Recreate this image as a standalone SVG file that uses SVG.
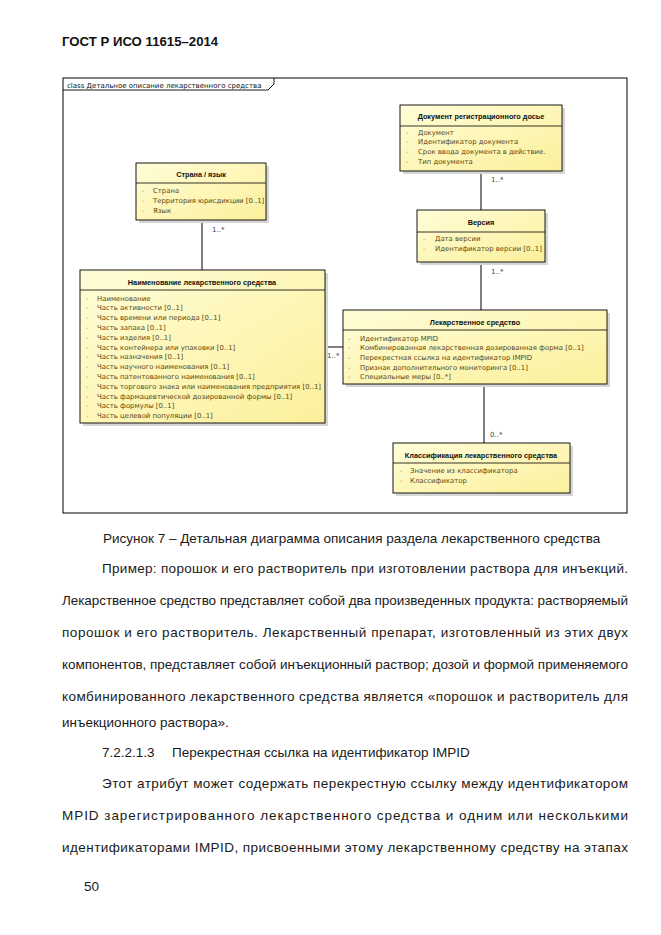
<svg xmlns="http://www.w3.org/2000/svg" width="661" height="935" viewBox="0 0 661 935">
<defs>
<linearGradient id="yel" x1="0" y1="0" x2="1" y2="1">
<stop offset="0" stop-color="#FFFDD8"/>
<stop offset="1" stop-color="#FBF09A"/>
</linearGradient>
<style>
.pg{font-family:"Liberation Sans",Arial,sans-serif;font-size:13.5px;fill:#1a1a1a}
.hd{font-family:"Liberation Sans",Arial,sans-serif;font-size:13.2px;font-weight:bold;fill:#111}
.box{fill:url(#yel);stroke:#000;stroke-width:0.9}
.sh{fill:#d6d6d6}
.sep{stroke:#000;stroke-width:0.8}
.tt{font-family:"Liberation Sans",Arial,sans-serif;font-size:7.3px;font-weight:bold;fill:#111;text-anchor:middle}
.at{font-family:"DejaVu Sans",Verdana,sans-serif;font-size:6.9px;fill:#5a4610}
.ds{font-family:"DejaVu Sans",Verdana,sans-serif;font-size:6.9px;fill:#c8892a}
.lb{font-family:"DejaVu Sans",Verdana,sans-serif;font-size:7px;fill:#444}
.cn{stroke:#000;stroke-width:1;fill:none}
.fr{font-family:"DejaVu Sans",Verdana,sans-serif;font-size:7px;fill:#111}
</style>
</defs>
<rect width="661" height="935" fill="#fff"/>
<text class="hd" x="62" y="45.5">ГОСТ Р ИСО 11615–2014</text>

<g id="frame">
<rect x="63" y="78" width="564" height="435" fill="none" stroke="#000" stroke-width="1"/>
<path d="M63,90 H268 L274,84 V78" fill="none" stroke="#000" stroke-width="0.9"/>
<text class="fr" x="67" y="87.5">class Детальное описание лекарственного средства</text>
</g>

<g id="connectors">
<line class="cn" x1="481" y1="171" x2="481" y2="210"/>
<line class="cn" x1="481" y1="262" x2="481" y2="310"/>
<line class="cn" x1="202" y1="220" x2="202" y2="270"/>
<line class="cn" x1="325" y1="347" x2="343" y2="347"/>
<line class="cn" x1="484" y1="384" x2="484" y2="443"/>
<text class="lb" x="491" y="182">1..*</text>
<text class="lb" x="491" y="274">1..*</text>
<text class="lb" x="212" y="232">1..*</text>
<text class="lb" x="327" y="358">1..*</text>
<text class="lb" x="490" y="437">0..*</text>
</g>

<g id="doc">
<rect class="sh" x="403" y="108" width="162" height="66"/>
<rect class="box" x="400" y="105" width="162" height="66"/>
<line class="sep" x1="400" y1="126" x2="562" y2="126"/>
<text class="tt" x="481" y="119">Документ регистрационного досье</text>
<text class="ds" x="406" y="134.5">-</text><text class="at" x="418" y="134.5">Документ</text>
<text class="ds" x="406" y="144">-</text><text class="at" x="418" y="144">Идентификатор документа</text>
<text class="ds" x="406" y="153.5">-</text><text class="at" x="418" y="153.5">Срок ввода документа в действие.</text>
<text class="ds" x="406" y="163.5">-</text><text class="at" x="418" y="163.5">Тип документа</text>
</g>

<g id="strana">
<rect class="sh" x="139" y="166" width="130" height="57"/>
<rect class="box" x="136" y="163" width="130" height="57"/>
<line class="sep" x1="136" y1="183" x2="266" y2="183"/>
<text class="tt" x="201" y="177">Страна / язык</text>
<text class="ds" x="142" y="193">-</text><text class="at" x="153" y="193">Страна</text>
<text class="ds" x="142" y="203">-</text><text class="at" x="153" y="203">Территория юрисдикции [0..1]</text>
<text class="ds" x="142" y="212.5">-</text><text class="at" x="153" y="212.5">Язык</text>
</g>

<g id="versiya">
<rect class="sh" x="420" y="213" width="128" height="52"/>
<rect class="box" x="417" y="210" width="128" height="52"/>
<line class="sep" x1="417" y1="232" x2="545" y2="232"/>
<text class="tt" x="481" y="225">Версия</text>
<text class="ds" x="423" y="241">-</text><text class="at" x="435" y="241">Дата версии</text>
<text class="ds" x="423" y="250.5">-</text><text class="at" x="435" y="250.5">Идентификатор версии [0..1]</text>
</g>

<g id="naimenovanie">
<rect class="sh" x="83" y="273" width="245" height="153"/>
<rect class="box" x="80" y="270" width="245" height="153"/>
<line class="sep" x1="80" y1="290" x2="325" y2="290"/>
<text class="tt" x="202" y="284.5">Наименование лекарственного средства</text>
<text class="ds" x="86" y="300.5">-</text><text class="at" x="97" y="300.5">Наименование</text>
<text class="ds" x="86" y="310.3">-</text><text class="at" x="97" y="310.3">Часть активности [0..1]</text>
<text class="ds" x="86" y="320.1">-</text><text class="at" x="97" y="320.1">Часть времени или периода [0..1]</text>
<text class="ds" x="86" y="329.9">-</text><text class="at" x="97" y="329.9">Часть запаха [0..1]</text>
<text class="ds" x="86" y="339.7">-</text><text class="at" x="97" y="339.7">Часть изделия [0..1]</text>
<text class="ds" x="86" y="349.5">-</text><text class="at" x="97" y="349.5">Часть контейнера или упаковки [0..1]</text>
<text class="ds" x="86" y="359.3">-</text><text class="at" x="97" y="359.3">Часть назначения [0..1]</text>
<text class="ds" x="86" y="369.1">-</text><text class="at" x="97" y="369.1">Часть научного наименования [0..1]</text>
<text class="ds" x="86" y="378.9">-</text><text class="at" x="97" y="378.9">Часть патентованного наименования [0..1]</text>
<text class="ds" x="86" y="388.7">-</text><text class="at" x="97" y="388.7">Часть торгового знака или наименования предприятия [0..1]</text>
<text class="ds" x="86" y="398.5">-</text><text class="at" x="97" y="398.5">Часть фармацевтической дозированной формы [0..1]</text>
<text class="ds" x="86" y="408.3">-</text><text class="at" x="97" y="408.3">Часть формулы [0..1]</text>
<text class="ds" x="86" y="418.1">-</text><text class="at" x="97" y="418.1">Часть целевой популяции [0..1]</text>
</g>

<g id="lekarstvo">
<rect class="sh" x="346" y="313" width="264" height="74"/>
<rect class="box" x="343" y="310" width="264" height="74"/>
<line class="sep" x1="343" y1="330" x2="607" y2="330"/>
<text class="tt" x="475" y="324.5">Лекарственное средство</text>
<text class="ds" x="348" y="340.5">-</text><text class="at" x="360" y="340.5">Идентификатор MPID</text>
<text class="ds" x="348" y="350">-</text><text class="at" x="360" y="350">Комбинированная лекарственная дозированная форма [0..1]</text>
<text class="ds" x="348" y="359.5">-</text><text class="at" x="360" y="359.5">Перекрестная ссылка на идентификатор IMPID</text>
<text class="ds" x="348" y="369.5">-</text><text class="at" x="360" y="369.5">Признак дополнительного мониторинга [0..1]</text>
<text class="ds" x="348" y="379">-</text><text class="at" x="360" y="379">Специальные меры [0..*]</text>
</g>

<g id="klassifikaciya">
<rect class="sh" x="396" y="446" width="177" height="50"/>
<rect class="box" x="393" y="443" width="177" height="50"/>
<line class="sep" x1="393" y1="463" x2="570" y2="463"/>
<text class="tt" x="481" y="457.5">Классификация лекарственного средства</text>
<text class="ds" x="400" y="473">-</text><text class="at" x="410" y="473">Значение из классификатора</text>
<text class="ds" x="400" y="483">-</text><text class="at" x="410" y="483">Классификатор</text>
</g>

<g id="body">
<text class="pg" x="103" y="542.5">Рисунок 7 – Детальная диаграмма описания раздела лекарственного средства</text>
<text class="pg" x="102" y="572.5" textLength="526" lengthAdjust="spacing">Пример: порошок и его растворитель при изготовлении раствора для инъекций.</text>
<text class="pg" x="62" y="604.5" textLength="566" lengthAdjust="spacing">Лекарственное средство представляет собой два произведенных продукта: растворяемый</text>
<text class="pg" x="62" y="636.5" textLength="566" lengthAdjust="spacing">порошок и его растворитель. Лекарственный препарат, изготовленный из этих двух</text>
<text class="pg" x="62" y="668.5" textLength="566" lengthAdjust="spacing">компонентов, представляет собой инъекционный раствор; дозой и формой применяемого</text>
<text class="pg" x="62" y="700.5" textLength="566" lengthAdjust="spacing">комбинированного лекарственного средства является «порошок и растворитель для</text>
<text class="pg" x="62" y="727">инъекционного раствора».</text>
<text class="pg" x="102" y="757">7.2.2.1.3<tspan x="172">Перекрестная ссылка на идентификатор IMPID</tspan></text>
<text class="pg" x="102" y="788" textLength="526" lengthAdjust="spacing">Этот атрибут может содержать перекрестную ссылку между идентификатором</text>
<text class="pg" x="62" y="820" textLength="566" lengthAdjust="spacing">MPID зарегистрированного лекарственного средства и одним или несколькими</text>
<text class="pg" x="62" y="852" textLength="566" lengthAdjust="spacing">идентификаторами IMPID, присвоенными этому лекарственному средству на этапах</text>
<text class="pg" x="84" y="891">50</text>
</g>
</svg>
